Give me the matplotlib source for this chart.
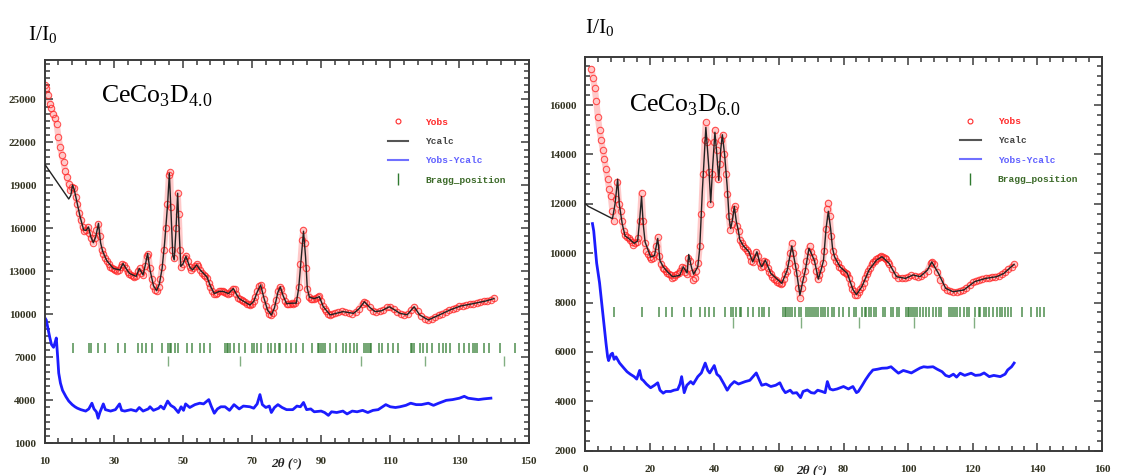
import matplotlib
matplotlib.use("Agg")
import matplotlib.pyplot as plt
from matplotlib.ticker import MultipleLocator, AutoMinorLocator, FixedLocator
from matplotlib.lines import Line2D

plt.rcParams["font.family"] = ["Liberation Serif", "DejaVu Serif"]
plt.rcParams["mathtext.fontset"] = "custom"
plt.rcParams["mathtext.rm"] = "Liberation Serif"

# ---------------- CeCo3D4.0 (left panel) ----------------
d4_obs_tt = [10.0, 10.5, 11.0, 11.5, 12.0, 12.5, 13.0, 13.5, 14.0, 14.5, 15.0, 15.5, 16.0, 16.5,
             17.0, 17.5, 18.0, 18.5, 19.0, 19.5, 20.0, 20.5, 21.0, 21.5, 22.0, 22.5, 23.0, 23.5,
             24.0, 24.5, 25.0, 25.5, 26.0, 26.5, 27.0, 27.5, 28.0, 28.5, 29.0, 29.5, 30.0, 30.5,
             31.0, 31.5, 32.0, 32.5, 33.0, 33.5, 34.0, 34.5, 35.0, 35.5, 36.0, 36.5, 37.0, 37.5,
             38.0, 38.5, 39.0, 39.5, 40.0, 40.5, 41.0, 41.5, 42.0, 42.5, 43.0, 43.5, 44.0, 44.5,
             45.0, 45.5, 46.0, 46.3, 46.6, 47.0, 47.5, 48.0, 48.5, 48.8, 49.2, 49.6, 50.0, 50.5,
             51.0, 51.5, 52.0, 52.5, 53.0, 53.5, 54.0, 54.5, 55.0, 55.5, 56.0, 56.5, 57.0, 57.5,
             58.0, 58.5, 59.0, 59.5, 60.0, 60.5, 61.0, 61.5, 62.0, 62.5, 63.0, 63.5, 64.0, 64.5,
             65.0, 65.5, 66.0, 66.5, 67.0, 67.5, 68.0, 68.5, 69.0, 69.5, 70.0, 70.5, 71.0, 71.5,
             72.0, 72.5, 73.0, 73.5, 74.0, 74.5, 75.0, 75.5, 76.0, 76.5, 77.0, 77.5, 78.0, 78.5,
             79.0, 79.5, 80.0, 80.5, 81.0, 81.5, 82.0, 82.5, 83.0, 83.5, 84.0, 84.5, 84.9, 85.3,
             85.7, 86.0, 86.5, 87.0, 87.5, 88.0, 88.5, 89.0, 89.5, 90.0, 90.5, 91.0, 91.5, 92.0,
             92.5, 93.0, 94.0, 95.0, 96.0, 97.0, 98.0, 99.0, 100.0, 101.0, 102.0, 102.5, 103.0,
             104.0, 105.0, 106.0, 107.0, 108.0, 109.0, 110.0, 111.0, 112.0, 113.0, 114.0, 115.0,
             116.0, 117.0, 118.0, 119.0, 120.0, 121.0, 122.0, 123.0, 124.0, 125.0, 126.0, 127.0,
             128.0, 129.0, 130.0, 131.0, 132.0, 133.0, 134.0, 135.0, 136.0, 137.0, 138.0, 139.0,
             140.0]
d4_obs = [26000, 25800, 25300, 24700, 24400, 24000, 23700, 23300, 22400, 21700, 21100, 20600,
          20000, 19600, 19100, 18700, 18900, 18800, 18200, 17700, 17100, 16600, 16100, 15800,
          15900, 16100, 15700, 15300, 15000, 15300, 15900, 16300, 15500, 14500, 14200, 13900,
          13700, 13500, 13300, 13200, 13150, 13100, 13050, 13100, 13300, 13500, 13450, 13200,
          12950, 12850, 12750, 12650, 12600, 12700, 13000, 13200, 12900, 12750, 13400, 14100,
          14200, 13200, 12500, 12000, 11700, 11600, 11900, 12500, 13300, 14500, 16000, 17700,
          19700, 19900, 17500, 14500, 13900, 16000, 18500, 17000, 14500, 13300, 13500, 13900,
          14100, 13700, 13300, 13100, 13200, 13400, 13500, 13400, 13100, 12900, 12750, 12650,
          12550, 12200, 11900, 11600, 11450, 11400, 11500, 11600, 11650, 11600, 11550, 11500,
          11450, 11500, 11650, 11800, 11750, 11400, 11150, 11050, 11000, 10950, 10850, 10750,
          10700, 10650, 10700, 10900, 11200, 11600, 11950, 12050, 11700, 11100, 10600, 10300,
          10050, 9950, 10100, 10500, 11000, 11600, 11900, 11800, 11300, 10900, 10750, 10700,
          10750, 10800, 10750, 10800, 11000, 11900, 13500, 15200, 15900, 15000, 13200, 11800,
          11200, 11050, 11100, 11100, 11150, 11200, 11250, 10900, 10550, 10350, 10200, 10050,
          9950, 10000, 10100, 10150, 10200, 10150, 10100, 10050, 10150, 10400, 10750, 10880,
          10800, 10500, 10250, 10150, 10200, 10300, 10480, 10520, 10350, 10150, 10050, 9980,
          10000, 10300, 10530, 10200, 9900, 9700, 9600, 9650, 9800, 9950, 10050, 10150, 10280,
          10350, 10450, 10550, 10600, 10650, 10700, 10750, 10800, 10850, 10900, 10950, 11000,
          11150]

d4_calc_tt = [10.0, 17.0, 17.6, 18.1, 18.6, 19.4, 20.3, 21.3, 22.0, 22.7, 23.4, 24.1, 24.8, 25.6,
              26.2, 26.8, 28.0, 29.9, 31.8, 32.7, 33.7, 34.6, 36.5, 37.4, 38.5, 39.2, 39.8, 40.5,
              41.5, 42.4, 43.2, 44.0, 44.7, 45.6, 46.1, 46.6, 47.1, 47.5, 48.0, 48.5, 49.0, 49.4,
              50.0, 50.9, 52.0, 52.8, 54.0, 55.0, 57.0, 58.0, 59.1, 60.5, 61.7, 63.2, 64.6, 65.5,
              66.3, 68.0, 69.4, 70.5, 71.5, 72.5, 73.5, 74.5, 75.6, 76.5, 77.5, 78.2, 79.0, 80.0,
              81.5, 82.8, 83.5, 84.2, 84.9, 85.5, 86.0, 86.6, 88.0, 89.5, 90.6, 92.6, 96.3, 99.4,
              101.0, 102.5, 104.0, 105.6, 107.5, 109.7, 111.0, 112.8, 114.9, 116.9, 118.5, 121.0,
              124.2, 127.3, 130.3, 133.4, 137.6, 140.0]
d4_calc = [20500, 18050, 18300, 19030, 18700, 17800, 16800, 15900, 15850, 16100, 15400, 15000,
           15400, 16350, 15000, 14400, 13750, 13200, 13100, 13550, 13150, 12850, 12650, 13200,
           12750, 13500, 14250, 13100, 12000, 11650, 12100, 13200, 14900, 17700, 19850, 17000,
           14100, 13800, 15800, 18450, 15500, 13350, 13500, 14050, 13300, 13100, 13450, 13100,
           12600, 11950, 11450, 11600, 11600, 11450, 11800, 11400, 11100, 10850, 10650, 10900,
           11550, 12050, 11100, 10300, 9950, 10450, 11550, 11920, 11300, 10750, 10780, 10780,
           11800, 13800, 15800, 14000, 11800, 11200, 11100, 11230, 10540, 9960, 10190, 10070,
           10400, 10880, 10500, 10190, 10250, 10530, 10350, 10070, 9970, 10530, 9960, 9610,
           9960, 10310, 10580, 10720, 10930, 11100]

d4_diff_tt = [10.0, 10.5, 11.0, 11.5, 12.0, 12.6, 13.0, 13.4, 13.8, 14.1, 14.6, 15.2, 16.2, 17.0,
              18.0, 18.8, 19.5, 20.5, 21.9, 22.8, 23.7, 24.3, 25.0, 25.5, 26.0, 27.0, 27.6, 29.1,
              30.5, 31.7, 32.3, 33.2, 35.0, 36.5, 37.4, 38.5, 40.0, 40.5, 41.5, 43.0, 43.6, 44.5,
              45.6, 46.5, 47.5, 48.7, 49.5, 50.2, 50.8, 52.0, 53.5, 54.9, 56.0, 57.5, 58.2, 59.1,
              60.0, 61.0, 62.2, 63.5, 64.8, 66.3, 67.5, 69.4, 70.5, 71.5, 72.3, 73.0, 74.0, 75.0,
              75.6, 76.5, 77.5, 78.7, 80.0, 81.8, 83.0, 84.0, 84.9, 85.8, 87.0, 88.0, 90.0, 91.0,
              92.1, 93.0, 94.5, 96.3, 97.5, 99.0, 100.4, 102.0, 103.5, 105.0, 106.5, 108.7, 110.0,
              111.5, 112.8, 114.5, 115.9, 117.5, 119.0, 121.0, 122.5, 124.0, 126.2, 128.0, 130.0,
              131.4, 132.5, 134.0, 135.5, 137.0, 139.1]
d4_diff = [9800, 9600, 9000, 8400, 7900, 7700, 8000, 8350, 7000, 5900, 5200, 4700, 4250, 3950,
           3700, 3550, 3450, 3350, 3250, 3400, 3800, 3400, 3200, 2750, 3150, 3750, 3350, 3250,
           3350, 3750, 3300, 3250, 3350, 3250, 3500, 3250, 3400, 3550, 3300, 3450, 3600, 3400,
           3950, 3650, 3500, 3150, 3550, 3300, 3750, 3500, 3700, 3800, 3750, 4050, 3600, 3100,
           3400, 3550, 3550, 3300, 3700, 3400, 3600, 3550, 3450, 3750, 4400, 3700, 3500, 3600,
           3150, 3500, 3700, 3500, 3350, 3350, 3600, 3550, 3850, 3350, 3400, 3200, 3250, 3150,
           2950, 3200, 3150, 3250, 3050, 3250, 3200, 3300, 3150, 3300, 3350, 3700, 3550, 3500,
           3550, 3650, 3800, 3700, 3700, 3800, 3650, 3800, 4000, 4050, 4150, 4280, 4150, 4100,
           4050, 4100, 4150]

d4_bragg_1 = [18.3, 22.9, 23.4, 25.5, 27.6, 31.2, 33.2, 36.9, 38.2, 39.4, 41.0, 44.1, 45.8, 46.2,
              46.7, 47.7, 48.7, 51.3, 52.7, 54.9, 56.0, 58.0, 62.2, 62.7, 63.2, 63.7, 64.8, 66.3,
              67.9, 69.9, 70.6, 71.5, 72.5, 74.6, 75.6, 76.6, 77.7, 78.2, 79.7, 81.3, 82.8, 84.9,
              87.5, 89.0, 89.5, 90.1, 90.6, 91.1, 92.6, 94.2, 96.3, 97.3, 98.3, 99.4, 100.4, 102.5,
              103.0, 103.5, 104.0, 104.5, 106.6, 107.6, 109.2, 110.7, 112.3, 115.9, 116.4, 116.9,
              118.5, 119.5, 120.5, 122.1, 124.2, 125.2, 126.2, 127.3, 129.8, 131.4, 132.9, 134.0,
              134.5, 135.0, 137.1, 138.6, 141.7, 146.1]
d4_bragg_2 = [45.8, 66.5, 101.6, 120.0, 142.9]

# ---------------- CeCo3D6.0 (right panel) ----------------
d6_obs_tt = [2.0, 2.5, 3.0, 3.5, 4.0, 4.5, 5.0, 5.5, 6.0, 6.5, 7.0, 7.5, 8.0, 8.5, 9.0, 9.5, 10.0,
             10.5, 11.0, 11.5, 12.0, 12.5, 13.0, 13.5, 14.0, 14.5, 15.0, 15.5, 16.0, 16.5, 17.0,
             17.5, 18.0, 18.5, 19.0, 19.5, 20.0, 20.5, 21.0, 21.5, 22.0, 22.5, 23.0, 23.5, 24.0,
             24.5, 25.0, 25.5, 26.0, 26.5, 27.0, 27.5, 28.0, 28.5, 29.0, 29.5, 30.0, 30.5, 31.0,
             31.5, 32.0, 32.5, 33.0, 33.5, 34.0, 34.5, 35.0, 35.5, 36.0, 36.5, 37.0, 37.4, 37.8,
             38.3, 38.8, 39.3, 39.8, 40.2, 40.7, 41.2, 41.7, 42.2, 42.6, 43.1, 43.6, 44.0, 44.5,
             45.0, 45.5, 46.0, 46.4, 47.0, 47.5, 48.0, 48.5, 49.0, 49.5, 50.0, 50.5, 51.0, 51.5,
             52.0, 52.5, 53.0, 53.5, 54.0, 54.5, 55.0, 55.5, 56.0, 56.5, 57.0, 57.5, 58.0, 58.5,
             59.0, 59.5, 60.0, 60.5, 61.0, 61.5, 62.0, 62.5, 63.0, 63.5, 64.0, 64.5, 65.0, 65.5,
             66.0, 66.5, 67.0, 67.5, 68.0, 68.5, 69.0, 69.5, 70.0, 70.5, 71.0, 71.5, 72.0, 72.5,
             73.0, 73.5, 74.0, 74.5, 75.0, 75.3, 75.7, 76.2, 76.7, 77.2, 77.7, 78.2, 78.7, 79.2,
             79.7, 80.2, 80.7, 81.2, 81.7, 82.2, 82.7, 83.2, 83.7, 84.2, 84.7, 85.2, 85.7, 86.2,
             86.7, 87.2, 87.7, 88.2, 88.7, 89.2, 89.7, 90.2, 90.7, 91.2, 91.7, 92.2, 92.7, 93.2,
             93.7, 94.2, 95.0, 96.0, 97.0, 98.0, 99.0, 100.0, 101.0, 102.0, 103.0, 104.0, 105.0,
             106.0, 107.0, 107.5, 108.0, 109.0, 110.0, 111.0, 112.0, 113.0, 114.0, 115.0, 116.0,
             117.0, 118.0, 119.0, 120.0, 121.0, 122.0, 123.0, 124.0, 125.0, 126.0, 127.0, 128.0,
             129.0, 130.0, 131.0, 132.0, 132.8]
d6_obs = [17450, 17100, 16700, 16150, 15500, 15000, 14600, 14200, 13800, 13400, 13000, 12600,
          12300, 11700, 11300, 12200, 12900, 12000, 11700, 11300, 10900, 10750, 10650, 10600,
          10550, 10450, 10350, 10400, 10450, 10600, 11300, 12450, 11300, 10400, 10100, 9950,
          9850, 9750, 9800, 9950, 10300, 10650, 9900, 9550, 9400, 9350, 9300, 9200, 9150, 9100,
          9000, 9050, 9100, 9150, 9200, 9300, 9450, 9400, 9250, 9150, 9800, 9700, 9200, 8900,
          9000, 9300, 9600, 10300, 11600, 13200, 14600, 15300, 14500, 13300, 12000, 13200, 14500,
          15000, 14200, 13000, 13600, 14600, 14800, 14000, 13200, 12400, 11500, 10950, 11200,
          11800, 11900, 11100, 10900, 10550, 10400, 10300, 10200, 10150, 10050, 9900, 9700,
          9650, 9800, 10050, 9900, 9600, 9450, 9500, 9700, 9650, 9400, 9250, 9150, 9050, 8950,
          8900, 8850, 8800, 8750, 8800, 8950, 9150, 9300, 9600, 10000, 10400, 10000, 9500, 9200,
          8600, 8200, 8600, 8950, 9300, 9700, 10100, 10300, 10050, 9850, 9700, 9300, 8950, 9100,
          9350, 9600, 10100, 11000, 11800, 12050, 11500, 10700, 10100, 9850, 9700, 9600, 9450,
          9400, 9300, 9250, 9200, 9150, 9000, 8750, 8550, 8450, 8300, 8320, 8420, 8550, 8650,
          8800, 9000, 9150, 9300, 9400, 9550, 9650, 9700, 9750, 9800, 9850, 9870, 9850, 9800,
          9750, 9650, 9550, 9350, 9100, 9000, 8980, 9000, 9050, 9100, 9080, 9050, 9080, 9150,
          9300, 9600, 9650, 9550, 9250, 8900, 8650, 8500, 8450, 8420, 8430, 8460, 8500, 8600,
          8700, 8820, 8880, 8930, 8970, 9000, 9000, 9020, 9050, 9080, 9150, 9250, 9350, 9450,
          9550]

d6_calc_tt = [0.2, 1.0, 8.5, 9.3, 10.1, 10.6, 11.5, 12.4, 13.5, 15.2, 16.3, 17.0, 17.5, 18.0, 18.6,
              20.3, 21.5, 22.5, 23.2, 24.2, 25.5, 27.1, 29.3, 30.4, 31.6, 32.1, 33.0, 33.6, 34.9,
              35.5, 36.3, 37.4, 38.3, 38.9, 39.5, 40.2, 40.8, 41.4, 42.0, 42.5, 43.2, 44.0, 44.6,
              45.1, 45.7, 46.2, 46.8, 47.4, 47.9, 49.0, 50.7, 51.9, 53.2, 54.1, 54.7, 55.8, 57.5,
              60.9, 62.6, 64.0, 64.7, 65.4, 66.5, 67.3, 68.2, 69.3, 70.0, 71.0, 72.2, 73.0, 73.8,
              74.6, 75.3, 76.0, 76.6, 77.2, 78.9, 81.2, 82.9, 84.0, 85.7, 87.9, 90.2, 91.9, 94.1,
              96.4, 99.2, 101.5, 103.7, 106.0, 107.3, 109.4, 111.6, 113.9, 117.2, 120.6, 124.0,
              127.4, 129.6, 131.9, 132.8]
d6_calc = [12000, 11900, 11400, 12000, 13000, 12000, 11200, 10700, 10600, 10400, 10500, 11500,
           12300, 11200, 10450, 9850, 9900, 10600, 9700, 9450, 9250, 9050, 9100, 9450, 9200, 9950,
           9400, 9150, 9450, 10200, 12500, 15100, 13500, 12050, 13500, 14900, 14000, 12950, 14200,
           14800, 14000, 12700, 11400, 11000, 11400, 11900, 11300, 10950, 10550, 10300, 10060,
           9650, 10060, 9600, 9450, 9720, 9180, 8780, 9320, 10300, 9800, 9300, 8300, 8800, 9320,
           10200, 10000, 9700, 8950, 9300, 9700, 11000, 11700, 11000, 10200, 9860, 9450, 9180,
           8530, 8320, 8650, 9320, 9720, 9860, 9590, 9050, 8980, 9120, 9050, 9320, 9650, 9180,
           8580, 8440, 8510, 8850, 8980, 9050, 9180, 9450, 9550]

d6_diff_tt = [2.3, 2.7, 3.6, 4.5, 5.6, 6.5, 7.0, 7.3, 8.0, 8.5, 9.0, 9.6, 10.7, 12.0, 13.0, 14.0,
              15.2, 16.0, 16.9, 17.5, 18.0, 19.0, 20.3, 21.5, 22.5, 23.2, 24.2, 25.0, 26.5, 27.5,
              28.7, 29.4, 29.9, 30.7, 31.5, 32.7, 33.5, 34.9, 36.0, 37.2, 38.0, 38.6, 40.0, 40.8,
              41.7, 43.0, 44.0, 45.0, 46.2, 47.5, 49.6, 51.0, 53.0, 54.0, 54.7, 56.0, 57.5, 59.0,
              60.3, 61.2, 62.0, 63.5, 64.3, 65.5, 66.7, 67.5, 68.8, 70.0, 71.0, 72.0, 73.3, 74.3,
              75.0, 75.8, 76.7, 78.0, 80.0, 81.5, 82.9, 84.0, 84.6, 85.8, 86.8, 88.0, 89.1, 90.5,
              91.9, 93.5, 94.7, 96.0, 97.0, 98.5, 99.8, 101.0, 102.6, 103.7, 104.8, 106.0, 107.7,
              109.0, 110.5, 111.6, 112.7, 114.0, 115.0, 116.1, 117.5, 119.5, 120.8, 122.3, 123.5,
              125.1, 126.5, 128.5, 130.0, 130.8, 132.0, 132.8]
d6_diff = [11200, 10900, 9600, 8800, 7450, 6350, 5800, 5650, 5900, 5950, 5700, 5800, 5550, 5350,
           5200, 5100, 5000, 4900, 5250, 4900, 4850, 4700, 4550, 4650, 4750, 4450, 4330, 4400,
           4400, 4450, 4480, 4700, 5000, 4350, 4650, 4800, 4700, 5000, 5150, 5550, 5250, 5150,
           5450, 5100, 5000, 4700, 4450, 4650, 4800, 4700, 4800, 4850, 5150, 4850, 4650, 4700,
           4600, 4650, 4750, 4500, 4350, 4450, 4330, 4350, 4150, 4400, 4460, 4350, 4330, 4450,
           4400, 4350, 4800, 4500, 4460, 4500, 4600, 4500, 4600, 4350, 4400, 4650, 4870, 5100,
           5270, 5300, 5340, 5350, 5400, 5250, 5140, 5250, 5200, 5150, 5270, 5350, 5400, 5380,
           5400, 5300, 5200, 5050, 5000, 5100, 4980, 5140, 5050, 5140, 5050, 5070, 5150, 5000,
           5050, 5000, 5100, 5270, 5400, 5550]

d6_bragg_1 = [9.0, 17.7, 22.8, 25.1, 26.8, 30.7, 32.7, 35.7, 37.2, 38.3, 40.0, 43.4, 45.1, 45.9,
              46.8, 47.9, 48.3, 50.5, 51.9, 53.9, 54.7, 55.5, 56.9, 61.2, 61.8, 62.2, 62.8, 63.5,
              64.0, 65.1, 66.1, 66.7, 68.4, 69.0, 69.7, 70.2, 70.8, 71.4, 72.2, 73.1, 73.6, 74.4,
              75.3, 76.3, 77.2, 78.7, 79.8, 81.7, 83.2, 84.0, 85.7, 86.5, 87.1, 87.9, 88.5, 89.3,
              90.0, 92.1, 92.7, 94.7, 95.3, 96.4, 97.3, 99.2, 99.8, 100.3, 100.9, 101.5, 102.0,
              102.6, 103.7, 104.6, 105.4, 106.3, 107.7, 108.6, 109.4, 110.3, 112.7, 113.3, 113.9,
              114.4, 115.0, 116.1, 117.2, 118.2, 118.9, 120.6, 121.8, 122.3, 123.4, 124.2, 125.1,
              126.3, 127.4, 128.3, 129.1, 129.9, 131.0, 131.9, 135.3, 137.9, 140.0, 140.9, 142.0]
d6_bragg_2 = [45.9, 66.7, 84.8, 101.8, 120.4]

RED = "#ff2a2a"
CALC = "#222222"
BLUE = "#1c1cff"
GREEN = "#2f7a2f"
FRAME = "#3a3a3a"


def draw_panel(ax, obs_tt, obs, calc_tt, calc, diff_tt, diff, b1, b2, b1_span, b2_span, leg_xy):
    # faint band under the observed points, then the hollow circles
    ax.plot(obs_tt, obs, color=RED, lw=4.5, alpha=0.25, solid_capstyle="round", zorder=1)
    ax.plot(obs_tt, obs, "o", mfc="none", mec=RED, ms=4.6, mew=0.8, alpha=0.8, zorder=2)
    ax.plot(calc_tt, calc, color=CALC, lw=1.0, zorder=3)
    ax.plot(diff_tt, diff, color=BLUE, lw=2.0, zorder=2)
    ax.vlines(b1, b1_span[0], b1_span[1], color=GREEN, lw=1.1, alpha=0.85)
    ax.vlines(b2, b2_span[0], b2_span[1], color=GREEN, lw=1.0, alpha=0.6)

    for s in ax.spines.values():
        s.set_color(FRAME)
        s.set_linewidth(1.4)
    ax.tick_params(which="both", direction="in", top=True, right=True,
                   colors=FRAME, labelcolor="#333322", width=1.1)
    ax.tick_params(which="major", length=6)
    ax.tick_params(which="minor", length=3.5)
    ax.tick_params(axis="x", pad=10, labelsize=8)
    ax.tick_params(axis="y", pad=6, labelsize=8)
    for lab in ax.get_xticklabels() + ax.get_yticklabels():
        lab.set_fontweight("bold")

    handles = [
        Line2D([], [], marker="o", ls="none", mfc="none", mec=RED, ms=3.5, mew=0.8),
        Line2D([], [], color="#555555", lw=1.5),
        Line2D([], [], color="#7070ff", lw=1.5),
        Line2D([], [], marker="|", ls="none", color=GREEN, ms=9, mew=1.0),
    ]
    labels = ["Yobs", "Ycalc", "Yobs-Ycalc", "Bragg_position"]
    leg = ax.legend(handles, labels, frameon=False, loc="upper left",
                    bbox_to_anchor=leg_xy, borderpad=0, handlelength=2.2,
                    handletextpad=1.8, labelspacing=1.1,
                    prop={"family": "Liberation Mono", "size": 6.8, "weight": "bold"})
    for txt, c in zip(leg.get_texts(), [RED, "#444444", "#6060ff", "#3d6b2a"]):
        txt.set_color(c)


fig = plt.figure(figsize=(11.22, 4.75), dpi=100)

ax1 = fig.add_axes([0.0397, 0.0667, 0.4314, 0.807])
draw_panel(ax1, d4_obs_tt, d4_obs, d4_calc_tt, d4_calc, d4_diff_tt, d4_diff,
           d4_bragg_1, d4_bragg_2, (7280, 7980), (6400, 7090), (0.699, 0.862))
ax1.set_xlim(10, 150)
ax1.set_ylim(1000, 27750)
ax1.xaxis.set_major_locator(FixedLocator(list(range(10, 151, 20))))
ax1.xaxis.set_minor_locator(AutoMinorLocator(5))
ax1.yaxis.set_major_locator(FixedLocator(list(range(1000, 25001, 3000))))
ax1.yaxis.set_minor_locator(AutoMinorLocator(6))
ax1.text(80, -0.052, "2θ (°)", transform=ax1.get_xaxis_transform(), ha="center", va="center",
         fontsize=9.5, style="italic", fontweight="bold", color="#222222")
ax1.text(0.116, 0.905, r"CeCo$_\mathrm{3}$D$_\mathrm{4.0}$", transform=ax1.transAxes,
         fontsize=18.5, va="center", ha="left")
fig.text(0.0249, 0.925, r"I/I$_\mathrm{0}$", fontsize=15.5, va="center", ha="left")

ax2 = fig.add_axes([0.5214, 0.0512, 0.4608, 0.8288])
draw_panel(ax2, d6_obs_tt, d6_obs, d6_calc_tt, d6_calc, d6_diff_tt, d6_diff,
           d6_bragg_1, d6_bragg_2, (7400, 7830), (6960, 7400), (0.716, 0.86))
ax2.set_xlim(0, 160)
ax2.set_ylim(2000, 17950)
ax2.xaxis.set_major_locator(MultipleLocator(20))
ax2.xaxis.set_minor_locator(AutoMinorLocator(5))
ax2.yaxis.set_major_locator(MultipleLocator(2000))
ax2.yaxis.set_minor_locator(AutoMinorLocator(5))
ax2.text(70, -0.049, "2θ (°)", transform=ax2.get_xaxis_transform(), ha="center", va="center",
         fontsize=9.5, style="italic", fontweight="bold", color="#222222")
ax2.text(0.085, 0.878, r"CeCo$_\mathrm{3}$D$_\mathrm{6.0}$", transform=ax2.transAxes,
         fontsize=18.5, va="center", ha="left")
fig.text(0.521, 0.94, r"I/I$_\mathrm{0}$", fontsize=15.5, va="center", ha="left")

fig.savefig("out.png", dpi=100)
